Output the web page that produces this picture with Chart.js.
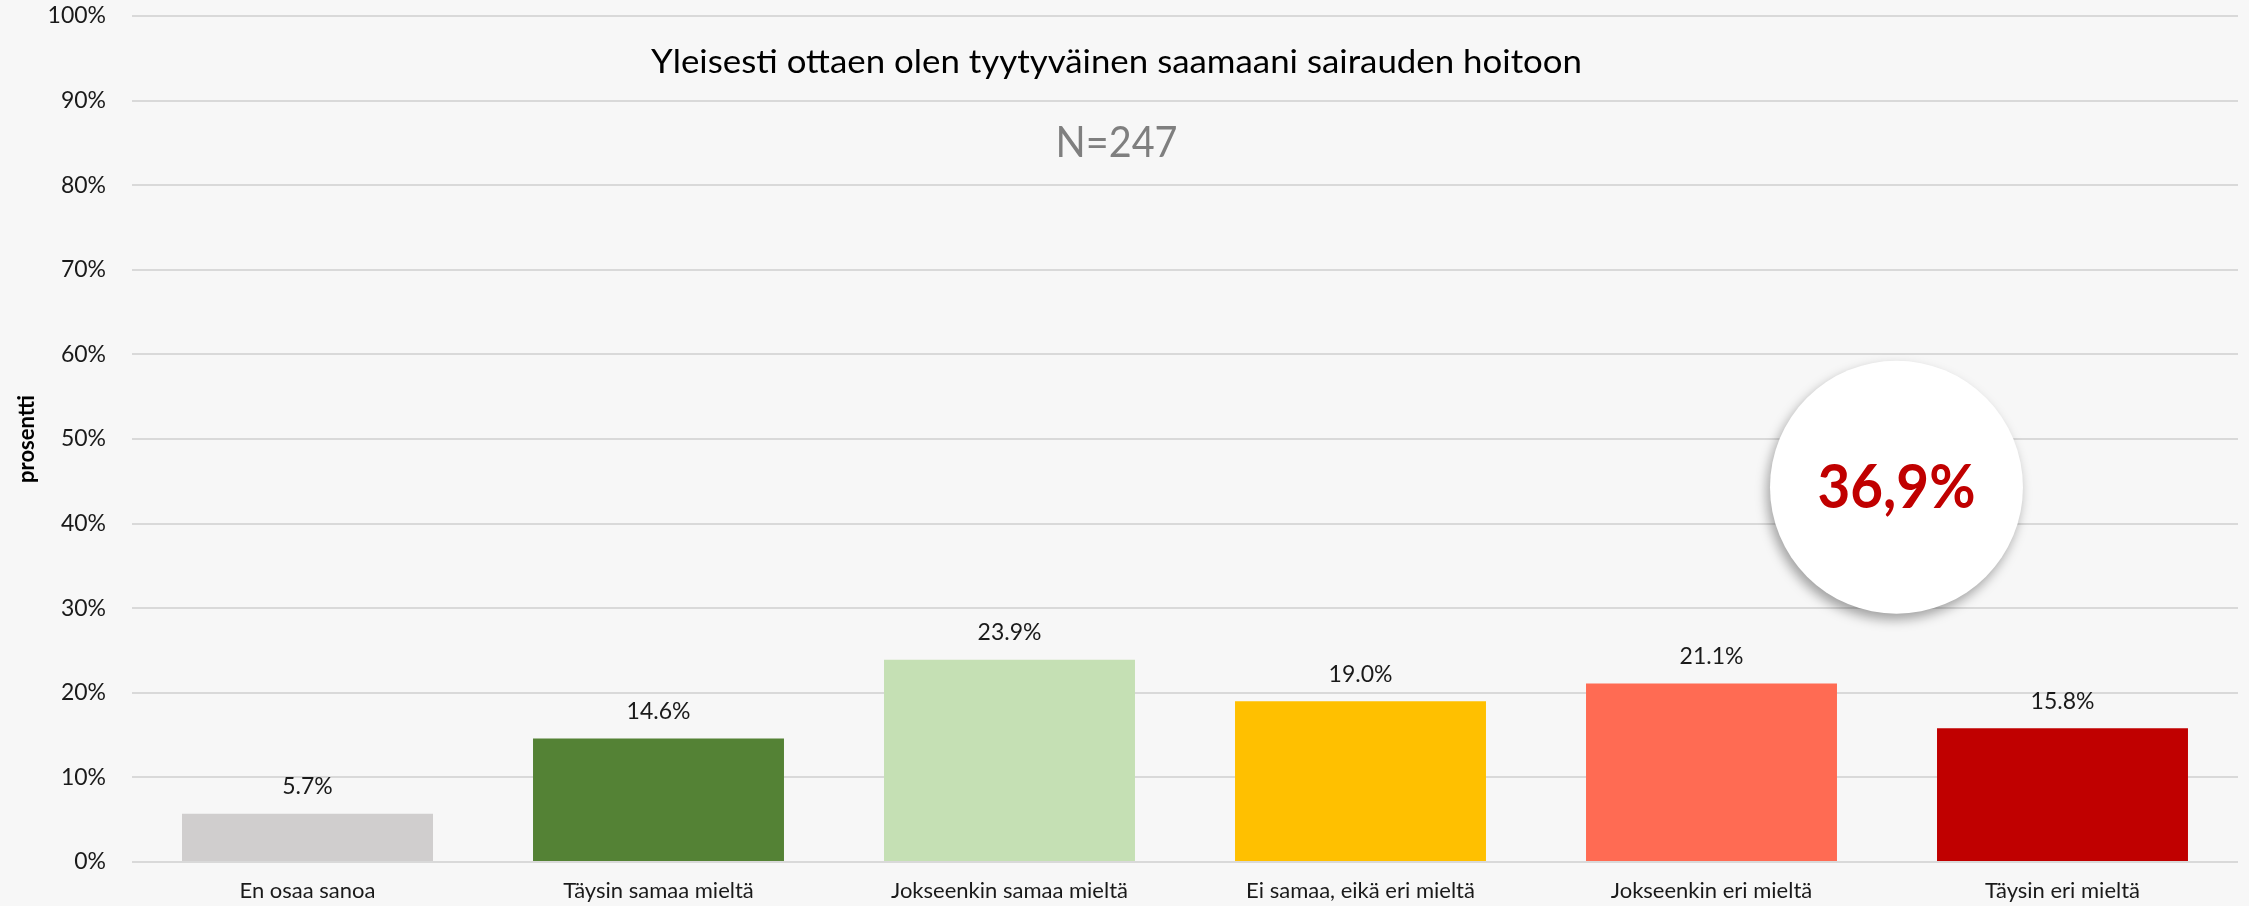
<!DOCTYPE html>
<html>
<head>
<meta charset="utf-8">
<script src="https://cdn.jsdelivr.net/npm/chart.js@4.4.1/dist/chart.umd.min.js"></script>
<style>
  html, body { margin: 0; padding: 0; background: #F7F7F7; }
  #wrap { width: 2249px; height: 906px; }
</style>
</head>
<body>
<div id="wrap"><canvas id="c" width="2249" height="906"></canvas></div>
<script>
const categories = ['En osaa sanoa', 'Täysin samaa mieltä', 'Jokseenkin samaa mieltä', 'Ei samaa, eikä eri mieltä', 'Jokseenkin eri mieltä', 'Täysin eri mieltä'];
const values = [5.7, 14.6, 23.9, 19.0, 21.1, 15.8];
const barColors = ['#D0CECE', '#548235', '#C5E0B4', '#FFC000', '#FF6B53', '#C00000'];
const yTickValues = [0, 10, 20, 30, 40, 50, 60, 70, 80, 90, 100];
const titleText = 'Yleisesti ottaen olen tyytyväinen saamaani sairauden hoitoon';
const subtitleText = 'N=247';
const yTitleText = 'prosentti';
const highlightIdx = [4, 5];

const FONT = 'Lato, "Open Sans", sans-serif';
const highlightSum = highlightIdx.reduce((s, i) => s + values[i], 0);
const highlightText = highlightSum.toFixed(1).replace('.', ',') + '%';

function fittedText(ctx, text, cx, cy, font, color, targetW) {
  ctx.save();
  ctx.font = font;
  ctx.fillStyle = color;
  ctx.textAlign = 'center';
  ctx.textBaseline = 'middle';
  const w = ctx.measureText(text).width;
  ctx.translate(cx, cy);
  ctx.scale(targetW / w, 1);
  ctx.fillText(text, 0, 0);
  ctx.restore();
}

const bgPlugin = {
  id: 'bg',
  beforeDraw(chart) {
    const ctx = chart.ctx;
    ctx.save();
    ctx.fillStyle = '#F7F7F7';
    ctx.fillRect(0, 0, chart.width, chart.height);
    ctx.restore();
  }
};

const labelsPlugin = {
  id: 'valueLabels',
  afterDatasetsDraw(chart) {
    const ctx = chart.ctx;
    const meta = chart.getDatasetMeta(0);
    ctx.save();
    ctx.font = '23px ' + FONT;
    ctx.fillStyle = '#1A1A1A';
    ctx.textAlign = 'center';
    ctx.textBaseline = 'middle';
    meta.data.forEach((bar, i) => {
      ctx.fillText(values[i].toFixed(1) + '%', bar.x, bar.y - 27);
    });
    ctx.restore();
  }
};

const overlayPlugin = {
  id: 'overlay',
  afterDraw(chart) {
    const ctx = chart.ctx;
    const a = chart.chartArea;
    const xs = chart.scales.x, ys = chart.scales.y;
    const titleX = a.left + (a.right - a.left) * 0.4675;
    fittedText(ctx, titleText, titleX, 62, '33px ' + FONT, '#000000', 931);
    fittedText(ctx, subtitleText, titleX, 143, '42px ' + FONT, '#7F7F7F', 122);

    // highlight bubble for the last two categories
    const x4 = xs.getPixelForValue(highlightIdx[0]);
    const x5 = xs.getPixelForValue(highlightIdx[1]);
    const cx = x4 + (x5 - x4) * 0.527;
    const cy = ys.getPixelForValue(44.3);
    const r = ys.getPixelForValue(0) - ys.getPixelForValue(14.95);
    ctx.save();
    ctx.shadowColor = 'rgba(0,0,0,0.35)';
    ctx.shadowBlur = 12;
    ctx.shadowOffsetX = -3;
    ctx.shadowOffsetY = 6;
    ctx.beginPath();
    ctx.arc(cx, cy, r, 0, Math.PI * 2);
    ctx.fillStyle = '#FFFFFF';
    ctx.fill();
    ctx.restore();
    fittedText(ctx, highlightText, cx, cy + 1, 'bold 61px ' + FONT, '#C00000', 158);
  }
};

new Chart(document.getElementById('c'), {
  type: 'bar',
  data: {
    labels: categories,
    datasets: [{
      data: values,
      backgroundColor: barColors,
      borderWidth: 0,
      barPercentage: 0.715,
      categoryPercentage: 1.0
    }]
  },
  options: {
    responsive: false,
    animation: false,
    devicePixelRatio: 1,
    layout: { padding: { top: 16, right: 11, bottom: 0, left: 0 } },
    plugins: { legend: { display: false }, tooltip: { enabled: false } },
    scales: {
      x: {
        grid: { display: false, drawTicks: false },
        border: { display: false },
        ticks: { font: { family: FONT, size: 22 }, color: '#1A1A1A', padding: 16, maxRotation: 0, autoSkip: false },
        afterFit(scale) { scale.height = 44; }
      },
      y: {
        min: 0, max: 100,
        afterBuildTicks(scale) { scale.ticks = yTickValues.map(v => ({ value: v })); },
        grid: { color: '#D9D9D9', lineWidth: 2, drawTicks: false },
        border: { display: false },
        ticks: { font: { family: FONT, size: 23 }, color: '#1A1A1A', padding: 26, callback: v => v + '%' },
        title: { display: true, text: yTitleText, font: { family: FONT, size: 22, weight: 'bold' }, color: '#000000', padding: { top: 14, bottom: 0 } },
        afterFit(scale) { scale.width = 132; scale.paddingTop = 0; scale.paddingBottom = 0; }
      }
    }
  },
  plugins: [bgPlugin, labelsPlugin, overlayPlugin]
});
</script>
</body>
</html>
